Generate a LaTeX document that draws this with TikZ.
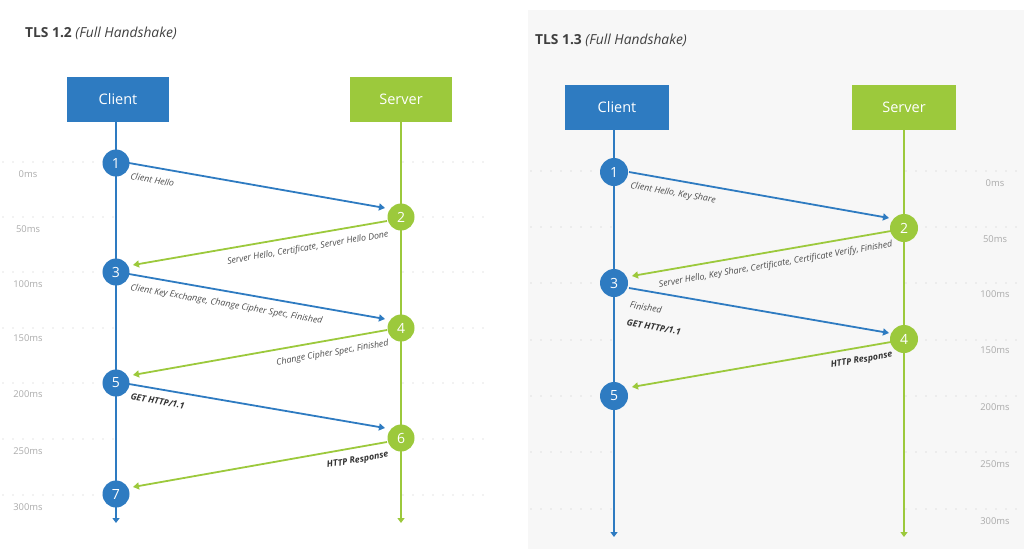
\documentclass[tikz,border=0pt]{standalone}
\usepackage{fontspec}
\setmainfont{Open Sans}
\usetikzlibrary{calc,arrows.meta}
\definecolor{cblue}{HTML}{2E7BC1}
\definecolor{cgreen}{HTML}{9CC93C}
\definecolor{dotgray}{HTML}{C8C8C8}
\definecolor{timegray}{HTML}{ABABAB}
\definecolor{labgray}{HTML}{4C4C4C}
\definecolor{boldgray}{HTML}{333333}
\definecolor{titlegray}{HTML}{3F3F3F}
\definecolor{panelgray}{HTML}{F7F7F7}
\begin{document}
\begin{tikzpicture}[x=1pt,y=-1pt,
  box/.style={minimum width=102pt,minimum height=45pt,inner sep=0pt,text=white,font=\fontsize{14.5}{16}\selectfont},
  cbox/.style={box,fill=cblue},
  sbox/.style={box,fill=cgreen},
  num/.style={circle,minimum size=27pt,inner sep=0pt,text=white,font=\fontsize{14}{16}\selectfont},
  cnum/.style={num,fill=cblue},
  snum/.style={num,fill=cgreen},
  life/.style={line width=2pt,-{Triangle[length=5pt,width=7pt]}},
  msg/.style={line width=1.8pt,-{Triangle[length=6pt,width=7pt]}},
  dotline/.style={dotgray,line width=1.2pt,dash pattern=on 0pt off 10pt,line cap=round},
  tlabel/.style={text=timegray,font=\fontsize{9.4}{11}\selectfont,inner sep=0pt},
  mlab/.style={text=labgray,font=\fontsize{8.8}{10}\selectfont\itshape,inner xsep=3pt,inner ysep=8pt,sloped},
  blab/.style={mlab,text=boldgray,font=\fontsize{8.8}{10}\selectfont\bfseries\itshape},
  title/.style={anchor=base west,inner sep=0pt,text=titlegray,font=\fontsize{13.8}{16}\selectfont}
]
\useasboundingbox (0,0) rectangle (1024,549);
\fill[panelgray] (528,10) rectangle (1024,549);

% titles
\node[title] (title12) at (25,37) {\textbf{TLS 1.2} \textit{(Full Handshake)}};
\node[title] (title13) at (535,44) {\textbf{TLS 1.3} \textit{(Full Handshake)}};

% ---------- left panel guides ----------
\foreach \y in {162,217,272,328,383,439,495} {
  \draw[dotline] (3,\y) -- (116,\y);
  \draw[dotline] (403,\y) -- (493,\y);
}
\node[tlabel] (la0) at (28,174) {0ms};
\node[tlabel] (la1) at (28,229) {50ms};
\node[tlabel] (la2) at (28,284) {100ms};
\node[tlabel] (la3) at (28,338) {150ms};
\node[tlabel] (la4) at (28,394) {200ms};
\node[tlabel] (la5) at (28,451) {250ms};
\node[tlabel] (la6) at (28,507) {300ms};

% ---------- right panel guides ----------
\foreach \y in {171,227,283,340,396,452,509} {
  \draw[dotline] (531,\y) -- (614,\y);
  \draw[dotline] (906,\y) -- (1024,\y);
}
\node[tlabel] (ra0) at (995,183) {0ms};
\node[tlabel] (ra1) at (995,239) {50ms};
\node[tlabel] (ra2) at (995,294) {100ms};
\node[tlabel] (ra3) at (995,350) {150ms};
\node[tlabel] (ra4) at (995,407) {200ms};
\node[tlabel] (ra5) at (995,464) {250ms};
\node[tlabel] (ra6) at (995,521) {300ms};

% ---------- left panel ----------
\node[cbox] (lc) at (118,99.5) {Client};
\node[sbox] (ls) at (401,99.5) {Server};
\coordinate (lcend) at (116,523);
\coordinate (lsend) at (401,523);
\draw[life,cblue] (lc.south -| lcend) -- (lcend);
\draw[life,cgreen] (ls.south) -- (lsend);

\node[cnum] (l1) at (116,163) {1};
\node[snum] (l2) at (401,217) {2};
\node[cnum] (l3) at (116,272) {3};
\node[snum] (l4) at (401,328) {4};
\node[cnum] (l5) at (116,383) {5};
\node[snum] (l6) at (401,438) {6};
\node[cnum] (l7) at (116,494) {7};

\draw[msg,cblue] ($(l1)+(13,0)$) -- node[mlab,pos=0,anchor=north west]{Client Hello} ($(l2)+(-16,-9)$);
\draw[msg,cgreen] ($(l2)+(-14,4)$) -- node[mlab,pos=0,anchor=north east,inner xsep=0pt]{Server Hello, Certificate, Server Hello Done} ($(l3)+(17,-7)$);
\draw[msg,cblue] ($(l3)+(13,2)$) -- node[mlab,pos=0,anchor=north west]{Client Key Exchange, Change Cipher Spec, Finished} ($(l4)+(-16,-9)$);
\draw[msg,cgreen] ($(l4)+(-14,2)$) -- node[mlab,pos=0,anchor=north east,inner xsep=0pt]{Change Cipher Spec, Finished} ($(l5)+(17,-8)$);
\draw[msg,cblue] ($(l5)+(13,1)$) -- node[blab,pos=0,anchor=north west]{GET HTTP/1.1} ($(l6)+(-16,-10)$);
\draw[msg,cgreen] ($(l6)+(-14,4)$) -- node[blab,pos=0,anchor=north east,inner xsep=0pt]{HTTP Response} ($(l7)+(17,-7)$);

% ---------- right panel ----------
\node[cbox,minimum width=104pt] (rc) at (617,107.5) {Client};
\node[sbox,minimum width=104pt] (rs) at (904,107.5) {Server};
\coordinate (rcend) at (614,537);
\coordinate (rsend) at (904,537);
\draw[life,cblue] (rc.south -| rcend) -- (rcend);
\draw[life,cgreen] (rs.south) -- (rsend);

\node[cnum,minimum size=28pt] (r1) at (614,172) {1};
\node[snum,minimum size=28pt] (r2) at (904,228) {2};
\node[cnum,minimum size=28pt] (r3) at (614,283) {3};
\node[snum,minimum size=28pt] (r4) at (904,339) {4};
\node[cnum,minimum size=28pt] (r5) at (614,396) {5};

\draw[msg,cblue] ($(r1)+(15,0)$) -- node[mlab,pos=0,anchor=north west]{Client Hello, Key Share} ($(r2)+(-15,-10)$);
\draw[msg,cgreen] ($(r2)+(-13,3)$) -- node[mlab,pos=0,anchor=north east,inner xsep=0pt]{Server Hello, Key Share, Certificate, Certificate Verify, Finished} ($(r3)+(18,-7)$);
\draw[msg,cblue] ($(r3)+(15,5)$) -- node[mlab,pos=0,anchor=north west,inner ysep=12pt,align=left]{Finished\\[8pt]{\color{boldgray}\bfseries GET HTTP/1.1}} ($(r4)+(-15,-6)$);
\draw[msg,cgreen] ($(r4)+(-13,3)$) -- node[blab,pos=0,anchor=north east,inner xsep=0pt]{HTTP Response} ($(r5)+(18,-9)$);
\end{tikzpicture}
\end{document}
